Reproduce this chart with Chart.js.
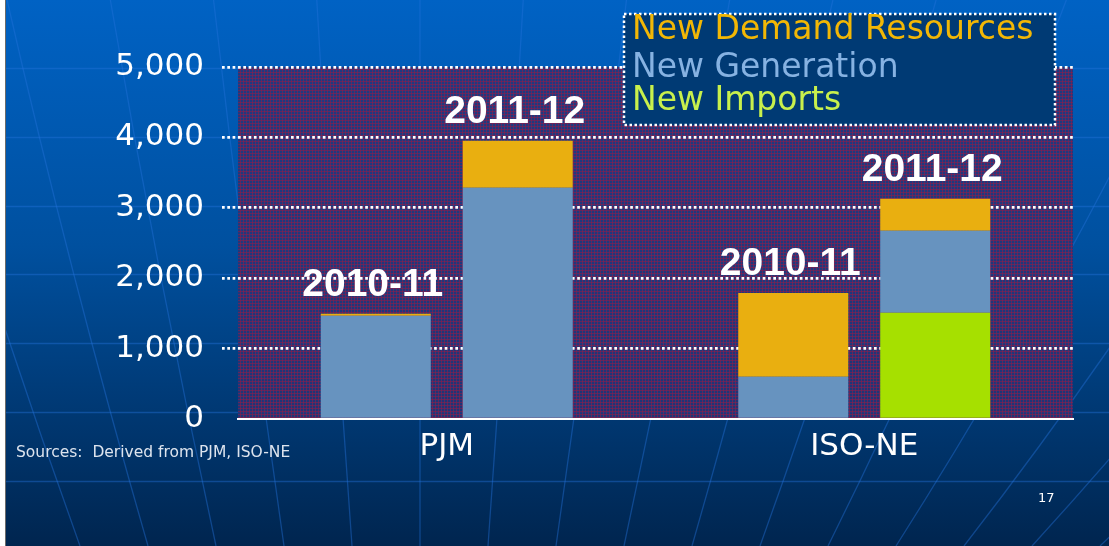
<!DOCTYPE html>
<html>
<head>
<meta charset="utf-8">
<script src="https://cdn.jsdelivr.net/npm/chart.js@4"></script>
<style>
  html, body { margin: 0; padding: 0; background: #fff; }
  canvas { display: block; }
</style>
</head>
<body>
<canvas id="chart" width="1109" height="546"></canvas>
<script>
// values (MW)
const categories = ['PJM', 'ISO-NE'];
const seasons = ['2010-11', '2011-12'];
const generation1011 = [1465, 600];
const demand1011 = [30, 1188];
const imports1112 = [0, 1510];
const generation1112 = [3286, 1165];
const demand1112 = [668, 455];
const legendNames = ['New Demand Resources', 'New Generation', 'New Imports'];
const legendColors = ['#f2b705', '#86b2e2', '#c8f04c'];

const GEN = '#6793bf';
const DEM = '#e9af10';
const IMP = '#a6e000';

function makePattern(ctx) {
  const c = document.createElement('canvas');
  c.width = 3; c.height = 3;
  const p = c.getContext('2d');
  p.fillStyle = 'rgba(36,52,120,0.86)';
  p.fillRect(0, 0, 3, 3);
  p.fillStyle = 'rgba(140,30,75,0.6)';
  p.fillRect(0, 0, 3, 1);
  p.fillRect(0, 0, 1, 3);
  return ctx.createPattern(c, 'repeat');
}

const slideBackground = {
  id: 'slideBackground',
  beforeDraw(chart) {
    const { ctx, width, height, chartArea } = chart;
    ctx.save();
    ctx.fillStyle = '#ffffff';
    ctx.fillRect(0, 0, width, height);
    const g = ctx.createLinearGradient(0, 0, 0, height);
    g.addColorStop(0, '#0062c4');
    g.addColorStop(0.45, '#00509f');
    g.addColorStop(1, '#00254f');
    ctx.fillStyle = g;
    ctx.fillRect(6, 0, width - 6, height);
    ctx.fillStyle = '#6a6a6a';
    ctx.fillRect(5, 0, 1, height);

    ctx.beginPath();
    ctx.rect(6, 0, width - 6, height);
    ctx.clip();
    // globe lines
    ctx.strokeStyle = 'rgba(35,115,220,0.42)';
    ctx.lineWidth = 1.3;
    for (let y = 68; y < height; y += 68.8) {
      ctx.beginPath();
      ctx.moveTo(6, Math.round(y) + 0.5);
      ctx.lineTo(width, Math.round(y) + 0.5);
      ctx.stroke();
    }
    const cx = 420, py = 1600;
    for (let k = -5; k <= 10; k++) {
      const xb = cx + k * 68;
      const xt = cx + (xb - cx) * py / (py - height);
      const xm = cx + (xb - cx) * (py - height / 2) / (py - height);
      const bend = k > 5 ? (k - 5) * 18 : 0;
      ctx.beginPath();
      ctx.moveTo(xt + bend * 1.5, 0);
      ctx.quadraticCurveTo(xm + (xb - cx) * 0.03 + bend, height / 2, xb, height);
      ctx.stroke();
    }
    // hatched plot area
    ctx.fillStyle = makePattern(ctx);
    ctx.fillRect(chartArea.left, chartArea.top, chartArea.right - chartArea.left, chartArea.bottom - chartArea.top);
    ctx.restore();
  }
};

const slideDecor = {
  id: 'slideDecor',
  afterDatasetsDraw(chart) {
    const { ctx } = chart;
    ctx.save();
    ctx.font = 'bold 39px "Liberation Sans", Arial, sans-serif';
    ctx.fillStyle = '#ffffff';
    ctx.textAlign = 'center';
    ctx.textBaseline = 'alphabetic';
    // label each stack with its season, above its top segment
    seasons.forEach(season => {
      categories.forEach((cat, i) => {
        let top = Infinity, x = 0;
        chart.data.datasets.forEach((ds, d) => {
          if (ds.stack !== season) return;
          const el = chart.getDatasetMeta(d).data[i];
          if (el.y < top) { top = el.y; x = el.x; }
        });
        ctx.fillText(season, x - 3, top - 18);
      });
    });
    ctx.restore();
  },
  afterDraw(chart) {
    const { ctx } = chart;
    ctx.save();
    // legend box
    ctx.fillStyle = '#003a74';
    ctx.fillRect(624, 14, 431, 111);
    ctx.strokeStyle = '#ffffff';
    ctx.lineWidth = 2.5;
    ctx.setLineDash([2.5, 2.5]);
    ctx.strokeRect(624, 14, 431, 111);
    ctx.setLineDash([]);
    ctx.font = '33px "DejaVu Sans", Verdana, sans-serif';
    ctx.textAlign = 'left';
    ctx.textBaseline = 'alphabetic';
    const rows = [39, 77, 110];
    legendNames.forEach((name, i) => {
      ctx.fillStyle = legendColors[i];
      ctx.fillText(name, 632, rows[i]);
    });
    // footer
    ctx.fillStyle = '#dde4ee';
    ctx.font = '15.5px "DejaVu Sans", Verdana, sans-serif';
    ctx.fillText('Sources:  Derived from PJM, ISO-NE', 16, 457);
    ctx.fillStyle = '#ffffff';
    ctx.font = '13px "DejaVu Sans", Verdana, sans-serif';
    ctx.fillText('17', 1038, 502);
    ctx.restore();
  }
};

const ctx = document.getElementById('chart').getContext('2d');
new Chart(ctx, {
  type: 'bar',
  data: {
    labels: categories,
    datasets: [
      { label: 'New Generation', data: generation1011, backgroundColor: GEN, stack: seasons[0] },
      { label: 'New Demand Resources', data: demand1011, backgroundColor: DEM, stack: seasons[0] },
      { label: 'New Imports', data: imports1112, backgroundColor: IMP, stack: seasons[1] },
      { label: 'New Generation', data: generation1112, backgroundColor: GEN, stack: seasons[1] },
      { label: 'New Demand Resources', data: demand1112, backgroundColor: DEM, stack: seasons[1] }
    ]
  },
  options: {
    responsive: false,
    animation: false,
    devicePixelRatio: 1,
    categoryPercentage: 0.68,
    barPercentage: 0.775,
    layout: { padding: { top: 67, right: 36, left: 0, bottom: 0 } },
    plugins: {
      legend: { display: false },
      tooltip: { enabled: false },
      title: { display: false }
    },
    scales: {
      x: {
        stacked: true,
        grid: { display: false, drawTicks: false },
        border: { display: true, color: '#ffffff', width: 2 },
        ticks: {
          color: '#ffffff',
          padding: 9,
          font: { family: '"DejaVu Sans", Verdana, sans-serif', size: 31 }
        },
        afterFit(s) { s.height = 127; }
      },
      y: {
        stacked: true,
        min: 0,
        max: 5000,
        border: { display: false, dash: [2.7, 2.6] },
        grid: {
          color: c => c.tick && c.tick.value === 0 ? 'rgba(0,0,0,0)' : '#ffffff',
          lineWidth: 2.7,
          tickLength: 16,
          tickBorderDash: [2.7, 2.6],
          drawTicks: true
        },
        ticks: {
          stepSize: 1000,
          color: '#ffffff',
          padding: 18,
          font: { family: '"DejaVu Sans", Verdana, sans-serif', size: 31 }
        },
        afterFit(s) { s.width = 238; }
      }
    }
  },
  plugins: [slideBackground, slideDecor]
});
</script>
</body>
</html>
